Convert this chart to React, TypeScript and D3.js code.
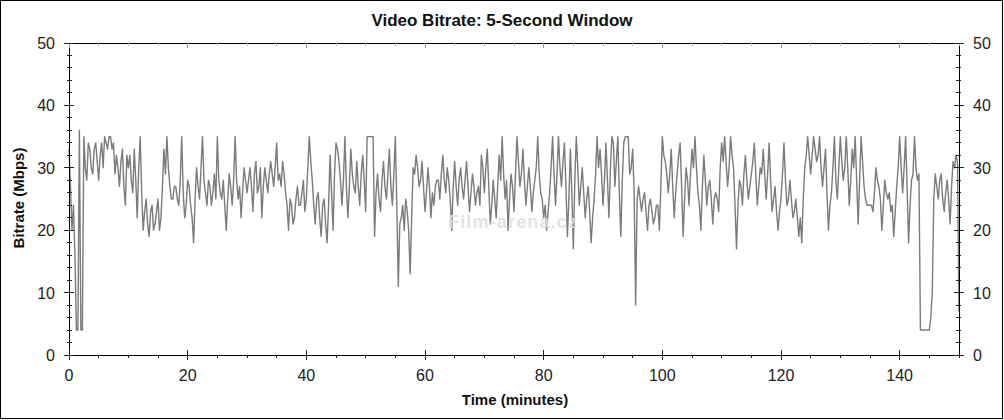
import React from 'react';
import * as d3 from 'd3';

// Video bitrate (Mbps): readings on every half minute, 0 .. 150 min
const STEP_MINUTES = 0.5;
const bitrate: number[] = [
  33, 20, 16, 4, 4, 35, 28, 33, 29, 34,
  28, 34, 35, 33, 35, 34, 32, 27, 33, 24,
  30, 28, 33, 22, 35, 20, 25, 19, 24, 21,
  25, 22, 33, 35, 27, 25, 27, 24, 35, 22,
  28, 24, 18, 30, 25, 35, 26, 28, 24, 29,
  35, 26, 28, 20, 29, 24, 35, 25, 22, 30,
  26, 30, 23, 31, 27, 22, 30, 26, 31, 27,
  34, 29, 31, 26, 20, 24, 22, 27, 24, 28,
  25, 35, 28, 21, 26, 19, 25, 18, 32, 20,
  34, 31, 24, 35, 22, 33, 27, 31, 24, 32,
  23, 35, 35, 19, 29, 23, 31, 25, 33, 24,
  35, 11, 22, 20, 23, 13, 30, 32, 27, 31,
  23, 30, 22, 24, 28, 25, 32, 26, 28, 20,
  31, 24, 30, 25, 31, 23, 29, 24, 27, 32,
  26, 33, 21, 28, 22, 32, 35, 25, 20, 29,
  23, 35, 27, 33, 24, 30, 23, 28, 35, 26,
  22, 20, 26, 35, 24, 35, 27, 34, 19, 33,
  17, 35, 24, 30, 22, 27, 18, 25, 35, 33,
  24, 34, 22, 35, 27, 35, 19, 34, 35, 29,
  33, 8, 27, 23, 26, 20, 25, 21, 24, 20,
  35, 31, 26, 33, 22, 29, 34, 19, 30, 24,
  33, 35, 26, 20, 32, 24, 28, 21, 26, 23,
  34, 35, 27, 35, 30, 17, 28, 24, 32, 25,
  29, 34, 24, 30, 33, 25, 34, 23, 27, 20,
  25, 34, 24, 28, 22, 25, 19, 18, 30, 35,
  29, 35, 31, 35, 27, 33, 20, 26, 35, 25,
  35, 28, 35, 24, 33, 35, 21, 35, 27, 24,
  24, 23, 30, 27, 20, 28, 25, 23, 19, 27,
  35, 26, 35, 18, 28, 35, 28, 4, 4, 4,
  4, 10, 29, 25, 29, 23, 28, 21, 31, 32,
  7,
];

// Readings a quarter minute after each of the above (0.25, 0.75, ... 149.75 min)
const bitrateQuarter: number[] = [
  27, 24, 4, 36, 4, 30, 34, 30, 33, 31,
  32, 30, 34, 35, 33, 29, 30, 31, 27, 32,
  32, 26, 28, 30, 26, 23, 21, 23, 20, 23,
  20, 27, 29, 30, 25, 27, 25, 28, 26, 24,
  27, 22, 25, 27, 30, 28, 24, 27, 26, 25,
  28, 25, 24, 25, 27, 28, 28, 27, 26, 28,
  28, 27, 29, 26, 30, 27, 28, 29, 29, 30,
  28, 27, 29, 24, 25, 21, 25, 24, 26, 23,
  30, 31, 24, 25, 22, 24, 21, 24, 26, 29,
  33, 28, 28, 27, 27, 29, 26, 27, 29, 28,
  35, 35, 35, 26, 25, 28, 27, 29, 27, 29,
  24, 21, 24, 25, 20, 22, 29, 30, 28, 27,
  26, 27, 26, 27, 28, 29, 28, 30, 25, 27,
  27, 28, 27, 28, 27, 26, 27, 26, 24, 30,
  30, 27, 24, 25, 27, 28, 29, 28, 25, 27,
  29, 31, 29, 28, 27, 27, 26, 30, 29, 25,
  24, 23, 30, 29, 29, 30, 31, 27, 25, 26,
  28, 30, 27, 26, 25, 23, 22, 29, 30, 29,
  28, 28, 30, 34, 31, 26, 28, 35, 35, 30,
  26, 25, 25, 25, 23, 24, 23, 22, 24, 27,
  32, 29, 29, 27, 26, 32, 27, 25, 28, 29,
  30, 30, 24, 27, 28, 27, 25, 25, 25, 30,
  31, 31, 30, 32, 24, 24, 27, 29, 28, 27,
  31, 29, 27, 29, 29, 29, 28, 25, 23, 23,
  29, 28, 25, 25, 23, 22, 22, 25, 32, 32,
  32, 33, 32, 30, 30, 26, 24, 30, 28, 30,
  31, 30, 30, 28, 30, 28, 28, 31, 25, 24,
  24, 26, 28, 25, 24, 26, 26, 24, 23, 30,
  30, 30, 27, 24, 29, 30, 29, 4, 4, 4,
  6, 25, 27, 28, 25, 26, 25, 27, 30, 31,
];

const xMajorTicks = [0, 20, 40, 60, 80, 100, 120, 140];
const yMajorTicks = [0, 10, 20, 30, 40, 50];
const xMinorStep = 5;
const yMinorStep = 2;

const titleText = 'Video Bitrate: 5-Second Window';
const xLabelText = 'Time (minutes)';
const yLabelText = 'Bitrate (Mbps)';
const watermarkText = 'Film-arena.cz';

export default function App() {
  const W = 1004;
  const H = 420;
  const x = d3.scaleLinear().domain([0, 150]).range([69, 959]);
  const y = d3.scaleLinear().domain([0, 50]).range([355, 43]);

  const points: [number, number][] = [];
  bitrate.forEach((v, i) => {
    points.push([i * STEP_MINUTES, v]);
    if (i < bitrateQuarter.length) points.push([i * STEP_MINUTES + STEP_MINUTES / 2, bitrateQuarter[i]]);
  });

  const line = d3
    .line<[number, number]>()
    .x((d) => x(d[0]))
    .y((d) => y(d[1]));

  const xMinor = d3.range(0, 150 + 0.001, xMinorStep);
  const yMinor = d3.range(0, 50 + 0.001, yMinorStep);
  const font = 'Arial, "Liberation Sans", Helvetica, sans-serif';
  const [x0, x1] = x.range();
  const [y0, y1] = y.range();
  const tickColor = '#222';

  return (
    <svg
      width={W}
      height={H}
      style={{ position: 'absolute', left: 0, top: 0, display: 'block', background: '#fff' }}
      fontFamily={font}
    >
      <rect x={0} y={0} width={W} height={H} fill="#fff" />
      <rect x={0.5} y={0.5} width={1002} height={418} fill="none" stroke="#000" strokeWidth={1} />

      {/* data line */}
      <path d={line(points) || ''} fill="none" stroke="#7b7b7b" strokeWidth={1.4} strokeLinejoin="round" />

      {/* watermark */}
      <text x={448} y={228} fontSize={18} fontWeight="bold" fill="#e0e0e0" fillOpacity={0.9} textLength={129}>
        {watermarkText}
      </text>

      <g shapeRendering="crispEdges">
        <line x1={x0} x2={x1} y1={y0} y2={y0} stroke="#000" />
        <line x1={x0} x2={x1} y1={y1} y2={y1} stroke="#000" />
        <line x1={x0} x2={x0} y1={y0} y2={y1} stroke="#000" />
        <line x1={x1} x2={x1} y1={y0} y2={y1} stroke="#000" />

        {xMinor.map((v) => (
          <line key={'bm' + v} x1={x(v)} x2={x(v)} y1={y0} y2={y0 + 3} stroke={tickColor} />
        ))}
        {xMajorTicks.map((v) => (
          <line key={'bM' + v} x1={x(v)} x2={x(v)} y1={y0 - 5} y2={y0 + 5} stroke={tickColor} />
        ))}
        {xMinor.map((v) => (
          <line key={'tm' + v} x1={x(v)} x2={x(v)} y1={y1} y2={y1 + 3} stroke="#bbb" />
        ))}
        {xMajorTicks.map((v) => (
          <line key={'tM' + v} x1={x(v)} x2={x(v)} y1={y1} y2={y1 + 5} stroke="#999" />
        ))}
        {yMinor.map((v) => (
          <g key={'ym' + v}>
            <line x1={x0 - 2} x2={x0 + 3} y1={y(v)} y2={y(v)} stroke={tickColor} />
            <line x1={x1 - 3} x2={x1 + 2} y1={y(v)} y2={y(v)} stroke={tickColor} />
          </g>
        ))}
        {yMajorTicks.map((v) => (
          <g key={'yM' + v}>
            <line x1={x0 - 5} x2={x0 + 5} y1={y(v)} y2={y(v)} stroke={tickColor} />
            <line x1={x1 - 5} x2={x1 + 5} y1={y(v)} y2={y(v)} stroke={tickColor} />
          </g>
        ))}
      </g>

      {xMajorTicks.map((v) => (
        <text key={'xl' + v} x={x(v)} y={381} fontSize={16} textAnchor="middle" fill="#222">
          {v}
        </text>
      ))}
      {yMajorTicks.map((v) => (
        <g key={'yl' + v}>
          <text x={55} y={y(v) + 6} fontSize={16} textAnchor="end" fill="#222">
            {v}
          </text>
          <text x={973} y={y(v) + 6} fontSize={16} textAnchor="start" fill="#222">
            {v}
          </text>
        </g>
      ))}

      <text x={502} y={26} fontSize={17} fontWeight="bold" textAnchor="middle" fill="#111">
        {titleText}
      </text>
      <text x={515} y={405} fontSize={15} fontWeight="bold" textAnchor="middle" fill="#111">
        {xLabelText}
      </text>
      <text
        transform={`translate(24, 198) rotate(-90)`}
        fontSize={15}
        fontWeight="bold"
        textAnchor="middle"
        fill="#111"
      >
        {yLabelText}
      </text>
    </svg>
  );
}
